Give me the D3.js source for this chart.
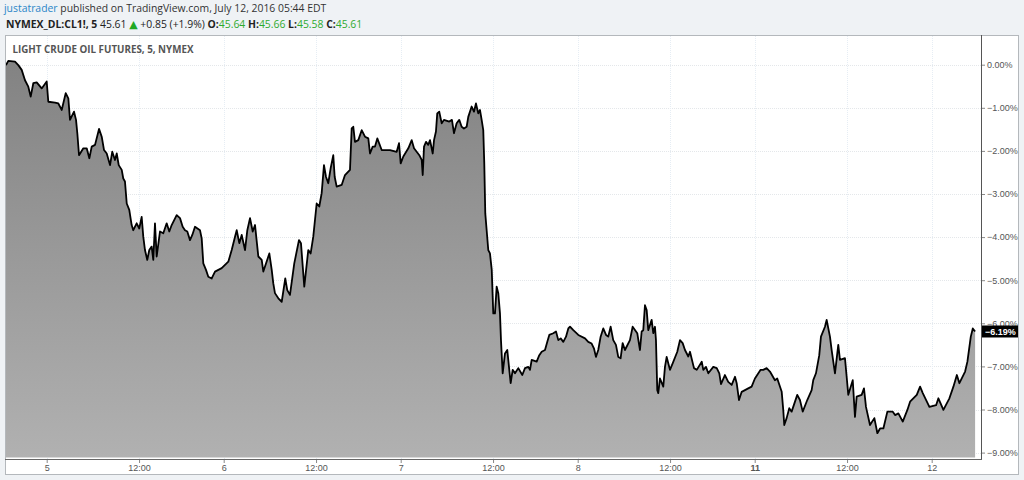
<!DOCTYPE html>
<html><head><meta charset="utf-8">
<script src="https://cdn.jsdelivr.net/npm/d3@7"></script>
<style>body{margin:0;background:#eff2f5;}svg{display:block}</style>
</head><body>
<svg id="c" width="1024" height="480"></svg>
<script>
// session hours since the July 5 session open (5-minute chart, 23h sessions)
const hours = [-5.29,-4.99,-4.12,-3.69,-3.25,-2.82,-2.39,-2.08,-1.74,-1.30,-0.65,0.00,0.21,1.08,1.51,1.95,2.47,2.81,3.03,3.55,3.81,3.98,4.20,4.76,5.20,5.54,5.85,6.28,6.80,7.15,7.45,7.80,8.23,8.52,8.87,9.10,9.36,9.75,9.95,10.17,10.40,10.73,11.04,11.25,11.69,12.03,12.34,12.55,12.77,13.07,13.33,13.64,13.85,14.07,14.29,14.72,15.15,15.59,15.93,16.24,16.89,17.32,17.67,17.97,18.27,18.62,18.92,19.27,19.92,20.14,20.35,20.70,21.00,21.44,21.87,22.74,23.60,24.04,24.47,24.69,25.03,25.34,25.77,26.07,26.42,26.77,27.07,27.50,27.94,28.15,28.93,29.24,29.44,29.66,30.10,30.54,31.00,31.26,31.61,32.17,32.78,33.04,33.47,33.99,34.30,34.64,35.08,35.42,35.73,36.03,36.29,36.59,36.90,37.24,37.42,37.68,38.33,38.76,39.41,39.63,39.84,40.06,40.49,40.93,41.36,41.79,42.01,42.36,42.66,42.96,43.53,43.96,44.61,45.48,45.78,46.00,46.34,46.99,47.43,47.73,48.42,48.73,48.86,49.03,49.29,49.58,49.81,50.16,50.33,50.58,50.75,51.01,51.33,51.62,52.31,52.66,52.92,53.27,53.61,53.92,54.22,54.57,54.78,55.22,55.52,55.78,56.08,56.30,56.52,56.73,56.86,56.99,57.17,57.38,57.60,57.83,58.03,58.25,58.47,58.68,58.90,59.03,59.25,59.55,59.85,60.11,60.29,60.55,60.85,61.28,61.80,62.15,62.58,62.80,63.02,63.67,64.01,64.32,64.75,65.05,65.31,65.83,66.18,66.48,66.79,67.13,67.48,67.78,68.00,68.43,69.08,69.95,70.37,70.81,71.11,71.37,71.67,71.98,72.32,72.68,72.97,73.28,73.62,73.97,74.27,74.58,74.84,75.14,75.79,76.14,76.74,77.09,77.31,77.52,77.74,77.96,78.17,78.61,78.82,79.04,79.17,79.34,79.47,79.69,80.12,80.34,80.56,80.99,81.34,81.94,82.29,82.64,82.94,83.37,83.59,84.11,84.47,85.12,85.32,85.67,85.97,86.62,87.07,87.40,87.62,88.13,88.56,89.01,89.44,89.66,89.96,90.31,91.16,91.60,92.03,92.77,93.11,93.55,93.98,94.63,94.93,95.51,95.71,95.84,96.15,96.49,96.80,97.53,97.88,98.24,98.83,99.40,99.61,99.96,100.39,100.61,101.13,101.35,101.78,102.00,102.43,102.86,103.08,103.73,103.95,104.16,104.74,105.03,105.25,105.90,106.20,106.46,106.98,107.55,107.94,108.29,108.72,109.24,109.94,110.24,110.67,111.24,111.84,112.19,113.06,113.49,113.84,114.70,115.57,115.87,116.52,117.30,117.82,118.27,118.60,119.34,119.64,120.08,120.34,120.64];
// percent change
const changes = [-0.01,0.09,0.07,-0.01,-0.12,-0.36,-0.51,-0.74,-0.43,-0.41,-0.55,-0.39,-0.86,-0.88,-0.90,-1.05,-0.66,-0.78,-1.28,-1.09,-1.28,-1.59,-2.10,-1.94,-1.94,-2.17,-1.90,-1.86,-1.49,-1.67,-1.98,-2.06,-2.33,-2.02,-2.21,-2.06,-2.33,-2.44,-2.64,-2.71,-3.22,-3.37,-3.72,-3.84,-3.68,-3.80,-3.53,-3.99,-4.30,-4.53,-4.30,-4.22,-4.53,-3.68,-4.45,-3.87,-3.91,-3.68,-3.87,-3.72,-3.49,-3.56,-3.76,-3.84,-3.87,-4.07,-3.95,-3.76,-3.84,-4.03,-4.61,-4.76,-4.92,-4.96,-4.80,-4.72,-4.57,-4.30,-3.99,-3.84,-4.14,-3.95,-4.30,-3.84,-3.56,-3.87,-3.72,-4.45,-4.53,-4.80,-4.38,-4.76,-5.07,-5.30,-5.42,-5.50,-4.96,-5.23,-5.34,-4.61,-4.07,-4.14,-5.15,-4.30,-4.38,-3.99,-3.22,-3.29,-2.98,-2.33,-2.60,-2.75,-2.40,-2.10,-2.60,-2.83,-2.79,-2.56,-2.44,-1.48,-1.44,-1.79,-1.75,-1.52,-1.67,-1.71,-2.06,-1.90,-1.90,-1.71,-1.98,-1.98,-1.98,-2.02,-1.82,-2.29,-2.13,-1.94,-1.75,-1.94,-2.10,-2.21,-2.56,-1.90,-1.79,-1.86,-1.75,-2.06,-1.75,-1.55,-1.13,-1.09,-1.36,-1.28,-1.32,-1.28,-1.59,-1.36,-1.28,-1.44,-1.48,-1.44,-1.21,-0.97,-1.09,-0.90,-1.13,-1.05,-1.28,-1.52,-2.29,-3.45,-3.84,-4.30,-4.38,-4.76,-5.77,-5.77,-5.15,-5.30,-5.77,-6.39,-7.16,-6.70,-6.62,-7.08,-7.39,-7.08,-7.16,-7.04,-7.20,-7.04,-7.01,-7.08,-6.85,-6.89,-6.74,-6.66,-6.62,-6.43,-6.27,-6.23,-6.19,-6.39,-6.35,-6.43,-6.31,-6.12,-6.08,-6.16,-6.27,-6.35,-6.43,-6.47,-6.58,-6.78,-6.62,-6.31,-6.12,-6.27,-6.31,-6.08,-6.39,-6.50,-6.78,-6.81,-6.46,-6.62,-6.39,-6.08,-6.23,-6.62,-6.19,-6.16,-5.58,-5.69,-6.16,-5.92,-6.23,-6.08,-6.39,-7.55,-7.62,-7.28,-7.47,-7.01,-6.78,-7.08,-6.93,-6.66,-6.39,-6.46,-6.62,-6.77,-6.66,-7.04,-7.08,-6.89,-7.08,-7.01,-7.16,-7.01,-7.04,-7.16,-7.41,-7.20,-7.36,-7.43,-7.24,-7.39,-7.78,-7.59,-7.51,-7.47,-7.28,-7.08,-7.08,-7.04,-7.12,-7.32,-7.28,-7.59,-8.01,-8.36,-8.20,-7.97,-8.05,-7.66,-7.78,-8.05,-7.78,-7.55,-7.32,-7.16,-6.74,-6.31,-6.08,-5.92,-6.31,-6.62,-7.16,-6.50,-6.85,-6.81,-7.24,-7.66,-7.32,-8.17,-7.70,-7.66,-7.51,-7.94,-8.36,-8.20,-8.55,-8.44,-8.44,-8.05,-8.05,-8.13,-8.09,-8.28,-8.01,-7.82,-7.66,-7.47,-7.62,-7.94,-7.90,-7.74,-8.01,-7.74,-7.47,-7.20,-7.39,-7.12,-6.89,-6.31,-6.12,-6.19];
const yTicks = [0,-1,-2,-3,-4,-5,-6,-7,-8,-9];
const xTickHours = [0,12,23,35,46,58,69,81,92,104,115];
const xTickLabels = ["5","12:00","6","12:00","7","12:00","8","12:00","11","12:00","12"];
const lastValue = -6.19;
const title = "LIGHT CRUDE OIL FUTURES, 5, NYMEX";

const svg = d3.select("#c");
const frame = {l:5, t:35, r:1018, b:474};
const plot = {l:6, t:36, r:981, b:459};

const x = d3.scaleLinear().domain([0,115]).range([46.7,931.7]);
const y = d3.scaleLinear().domain([0,-9]).range([64.7,452.6]);

const defs = svg.append("defs");
const grad = defs.append("linearGradient").attr("id","g").attr("gradientUnits","userSpaceOnUse")
  .attr("x1",0).attr("x2",0).attr("y1",y(0)).attr("y2",plot.b);
grad.append("stop").attr("offset",0).attr("stop-color","#838383");
grad.append("stop").attr("offset",1).attr("stop-color","#b1b1b1");
defs.append("clipPath").attr("id","pc").append("rect")
  .attr("x",plot.l).attr("y",plot.t).attr("width",plot.r-plot.l).attr("height",plot.b-plot.t-1);

// header
const FS = 10.4;
const h1 = svg.append("text").attr("x",4).attr("y",11.5).attr("font-family","Open Sans").attr("font-size",FS);
h1.append("tspan").attr("fill","#2a86c8").text("justatrader");
h1.append("tspan").attr("fill","#333").text(" published on TradingView.com, July 12, 2016 05:44 EDT");
const h2 = svg.append("text").attr("x",6).attr("y",27.5).attr("font-family","Open Sans").attr("font-size",FS).attr("fill","#222");
h2.append("tspan").attr("font-weight","bold").text("NYMEX_DL:CL1!, 5");
h2.append("tspan").text(" 45.61 ");
h2.append("tspan").attr("fill","#22a822").attr("font-family","DejaVu Sans").attr("font-size",11).text("▲");
h2.append("tspan").text(" +0.85 (+1.9%) ");
[["O:","45.64"],["H:","45.66"],["L:","45.58"],["C:","45.61"]].forEach((p,i)=>{
  h2.append("tspan").attr("font-weight","bold").text(p[0]);
  h2.append("tspan").attr("fill","#2eaa2e").text(p[1] + (i<3?" ":""));
});

// frame
svg.append("rect").attr("x",frame.l+0.5).attr("y",frame.t+0.5).attr("width",frame.r-frame.l).attr("height",frame.b-frame.t)
  .attr("fill","#fff").attr("stroke","#b4b8bc");

// grid
svg.append("g").selectAll("line").data(yTicks).join("line")
  .attr("x1",plot.l).attr("x2",plot.r).attr("y1",d=>Math.round(y(d))+0.5).attr("y2",d=>Math.round(y(d))+0.5)
  .attr("stroke","#e4e7ea").attr("stroke-dasharray","1,1");
svg.append("g").selectAll("line").data(xTickHours).join("line")
  .attr("x1",d=>Math.round(x(d))+0.5).attr("x2",d=>Math.round(x(d))+0.5).attr("y1",plot.t).attr("y2",plot.b)
  .attr("stroke","#e6edf4").attr("stroke-dasharray","1,1");

// area + line
const data = hours.map((h,i)=>({h, v:changes[i]}));
const g = svg.append("g").attr("clip-path","url(#pc)");
g.append("path").datum(data).attr("fill","url(#g)")
  .attr("d", d3.area().x(d=>x(d.h)).y0(plot.b-1.5).y1(d=>y(d.v)));
g.append("path").datum(data).attr("fill","none").attr("stroke","#000").attr("stroke-width",1.8).attr("stroke-linejoin","round")
  .attr("d", d3.line().x(d=>x(d.h)).y(d=>y(d.v)));

// title
svg.append("text").attr("x",12.5).attr("y",52.5).attr("font-family","Open Sans").attr("font-weight","bold")
  .attr("font-size",9.8).attr("fill","#555").text(title);

// axes borders
svg.append("line").attr("x1",plot.r+0.5).attr("x2",plot.r+0.5).attr("y1",frame.t).attr("y2",plot.b+1).attr("stroke","#555");
svg.append("line").attr("x1",frame.l).attr("x2",plot.r+1).attr("y1",plot.b+0.5).attr("y2",plot.b+0.5).attr("stroke","#666");

// y axis
const yAxis = d3.axisRight(y).tickValues(yTicks).tickSize(3).tickPadding(2).tickFormat(d=>d3.format(".2f")(d)+"%");
const ya = svg.append("g").attr("transform",`translate(${plot.r+1},0)`).call(yAxis);
ya.select(".domain").remove();
ya.selectAll("line").attr("stroke","#888");
ya.selectAll("text").attr("font-family","Liberation Sans").attr("font-size",9).attr("fill","#555");

// x axis
const xAxis = d3.axisBottom(x).tickValues(xTickHours).tickSize(3).tickPadding(2).tickFormat((d,i)=>xTickLabels[i]);
const xa = svg.append("g").attr("transform",`translate(0,${plot.b+1})`).call(xAxis);
xa.select(".domain").remove();
xa.selectAll("line").attr("stroke","#888");
xa.selectAll("text").attr("font-family","Liberation Sans").attr("font-size",9).attr("fill","#555")
  .attr("font-weight",(d,i)=>xTickLabels[i]==="11"?"bold":"normal");

// last value label
const ly = y(lastValue);
svg.append("rect").attr("x",plot.r+1).attr("y",ly-6).attr("width",frame.r-plot.r-1).attr("height",12).attr("fill","#000");
svg.append("text").attr("x",plot.r+4).attr("y",ly+3.5).attr("font-family","Liberation Sans").attr("font-weight","bold")
  .attr("font-size",9).attr("fill","#fff").text(d3.format(".2f")(lastValue)+"%");
</script>
</body></html>
